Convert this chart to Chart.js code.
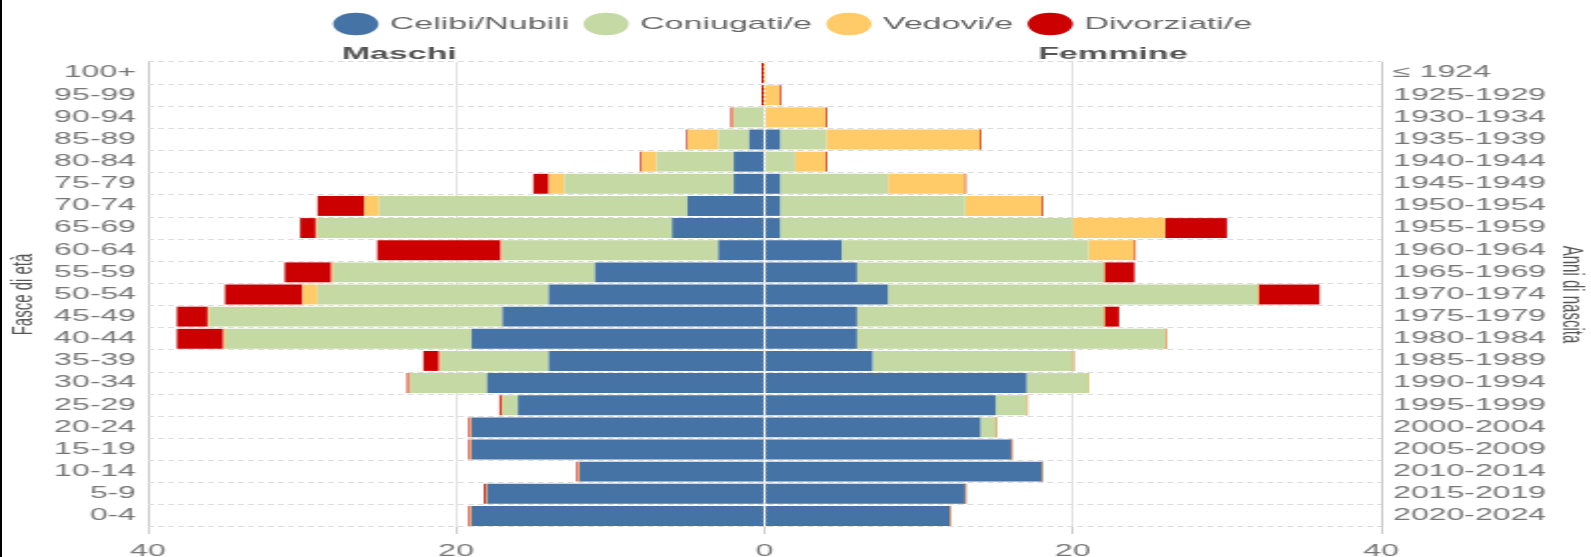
<!DOCTYPE html>
<html><head><meta charset="utf-8">
<script src="https://cdn.jsdelivr.net/npm/chart.js@4.4.1/dist/chart.umd.min.js"></script>
<style>
html,body{margin:0;padding:0;background:#fff;overflow:hidden;}
#wrap{position:relative;width:1591px;height:557px;overflow:hidden;background:#fff;}
#stretch{position:absolute;left:0;top:0;width:796px;height:557px;transform:scaleX(1.99874);transform-origin:0 0;}
#edge{position:absolute;left:0;top:0;width:2px;height:557px;background:#000;}
</style></head><body>
<div id="wrap">
  <div id="stretch"><canvas id="c" width="796" height="557"></canvas></div>
  <div id="edge"></div>
</div>
<script>
// ---- data (top row first) ----
const ageGroups = ['100+','95-99','90-94','85-89','80-84','75-79','70-74','65-69','60-64','55-59','50-54','45-49','40-44','35-39','30-34','25-29','20-24','15-19','10-14','5-9','0-4'];
const birthYears = ['≤ 1924','1925-1929','1930-1934','1935-1939','1940-1944','1945-1949','1950-1954','1955-1959','1960-1964','1965-1969','1970-1974','1975-1979','1980-1984','1985-1989','1990-1994','1995-1999','2000-2004','2005-2009','2010-2014','2015-2019','2020-2024'];
const statusNames = ['Celibi/Nubili','Coniugati/e','Vedovi/e','Divorziati/e'];
const sideLabels = ['Maschi','Femmine'];
const axisTitles = ['Fasce di età','Anni di nascita'];

const maleCelibi      = [0,0,0,1,2,2,5,6,3,11,14,17,19,14,18,16,19,19,12,18,19];
const maleConiugati   = [0,0,2,2,5,11,20,23,14,17,15,19,16,7,5,1,0,0,0,0,0];
const maleVedovi      = [0,0,0,2,1,1,1,0,0,0,1,0,0,0,0,0,0,0,0,0,0];
const maleDivorziati  = [0,0,0,0,0,1,3,1,8,3,5,2,3,1,0,0,0,0,0,0,0];

const femCelibi       = [0,0,0,1,0,1,1,1,5,6,8,6,6,7,17,15,14,16,18,13,12];
const femConiugati    = [0,0,0,3,2,7,12,19,16,16,24,16,20,13,4,2,1,0,0,0,0];
const femVedovi       = [0,1,4,10,2,5,5,6,3,0,0,0,0,0,0,0,0,0,0,0,0];
const femDivorziati   = [0,0,0,0,0,0,0,4,0,2,4,1,0,0,0,0,0,0,0,0,0];

const colors = ['#4573a5','#c5d9a4','#fecb68','#cc0000'];
// ------------------------------

Chart.defaults.font.family = '"Liberation Sans", Arial, sans-serif';

const male = [maleCelibi, maleConiugati, maleVedovi, maleDivorziati];
const female = [femCelibi, femConiugati, femVedovi, femDivorziati];
const common = {barPercentage:0.9, categoryPercentage:1.0, borderWidth:0, xAxisID:'x', pointStyle:'circle', grouped:false};
const mk = (arr, i, axis, sign) => Object.assign({
  label:statusNames[i], data:arr.map(v=>sign*v), backgroundColor:colors[i], yAxisID:axis,
  minBarLength: i >= 2 ? 1 : 0
}, common);
const datasets = male.map((arr,i)=>mk(arr,i,'y',-1)).concat(female.map((arr,i)=>mk(arr,i,'y2',1)));

function zeroLineDraw(chart, color){
  const {ctx, chartArea} = chart;
  const x = chart.scales.x.getPixelForValue(0);
  ctx.save();
  ctx.strokeStyle = color; ctx.lineWidth = 1.3; ctx.setLineDash([2,2]);
  ctx.beginPath(); ctx.moveTo(x, chartArea.top); ctx.lineTo(x, chartArea.bottom); ctx.stroke();
  ctx.restore();
}
const zeroLine = {
  id:'zeroLine',
  beforeDatasetsDraw(chart){ zeroLineDraw(chart, '#8c8c8c'); },
  afterDatasetsDraw(chart){ zeroLineDraw(chart, 'rgba(255,255,255,0.8)'); }
};

new Chart(document.getElementById('c'), {
  type:'bar',
  data:{ datasets },
  options:{
    responsive:false, animation:false, indexAxis:'y',
    layout:{padding:{top:5.5,left:0,right:0,bottom:0}},
    plugins:{
      legend:{ labels:{ usePointStyle:true, pointStyle:'circle', boxHeight:16, font:{size:17}, color:'#666', padding:10,
        filter:(it)=>it.datasetIndex<4 } },
      tooltip:{enabled:false}
    },
    scales:{
      x:{ type:'linear', min:-40, max:40, stacked:true,
        ticks:{stepSize:20, callback:(v)=>Math.abs(v), font:{size:16}, color:'#777', padding:8, maxRotation:0},
        grid:{ color:(c)=>{ const v = c.tick ? c.tick.value : null; if (v===0) return 'rgba(0,0,0,0)'; return Math.abs(v)===40 ? '#c8c8c8' : '#e2e2e2'; },
               tickColor:'#ccc', tickLength:7 },
        border:{display:false},
        afterFit:(s)=>{ s.height = 30; } },
      xTop:{ type:'linear', position:'top', min:-40, max:40,
        grid:{display:false, drawTicks:false}, border:{display:false},
        afterBuildTicks:(s)=>{ s.ticks = [-23.7, 22.6].map(v=>({value:v})); },
        ticks:{ callback:(v,i)=>sideLabels[i], font:{size:17, weight:'bold'}, color:'#555', padding:-3, autoSkip:false, maxRotation:0 },
        afterFit:(s)=>{ s.height = 19.5; } },
      y:{ type:'category', labels:ageGroups, stacked:true, position:'left',
        grid:{color:'#dcdcdc', drawTicks:false}, border:{display:false, dash:[3,2]},
        ticks:{font:{size:16}, color:'#777', padding:6, autoSkip:false},
        title:{display:true, text:axisTitles[0], font:{size:15}, color:'#555', padding:{top:3,bottom:0}},
        afterFit:(s)=>{ s.width = 74; } },
      y2:{ type:'category', labels:birthYears, stacked:true, position:'right',
        grid:{display:false, drawTicks:false}, border:{display:false},
        ticks:{font:{size:16}, color:'#777', padding:6, autoSkip:false},
        title:{display:true, text:axisTitles[1], font:{size:15}, color:'#555', padding:{top:1,bottom:0}},
        afterFit:(s)=>{ s.width = 105; } }
    }
  },
  plugins:[zeroLine]
});
</script>
</body></html>
